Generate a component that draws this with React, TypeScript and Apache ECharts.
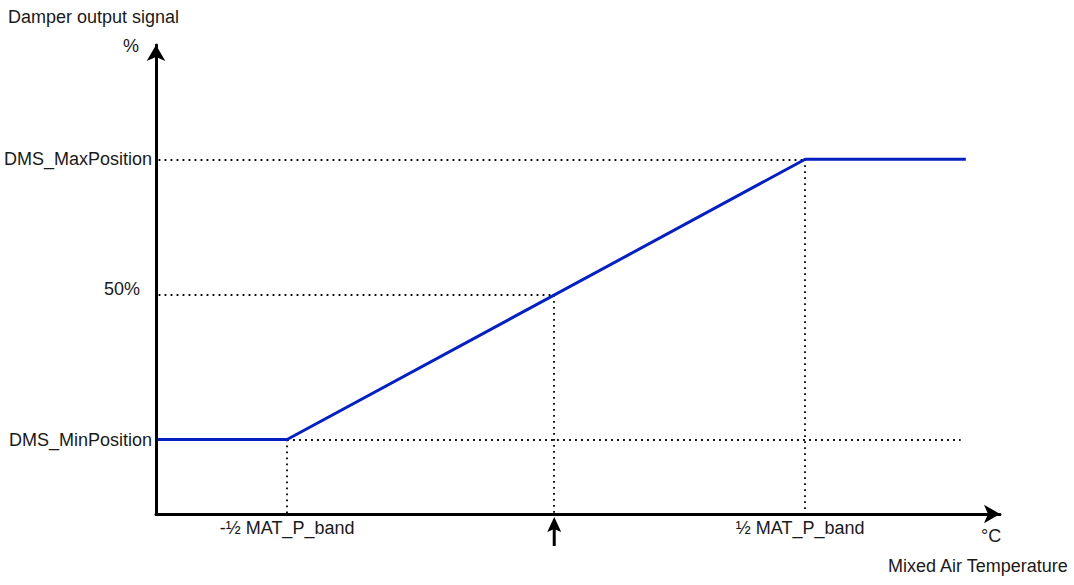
import React, { useEffect, useRef } from "react";
import * as echarts from "echarts";

// Curve knots (relative mixed air temperature, % damper signal)
const xKnots = [-0.75, -0.5, 0.5, 0.81];
const yValues = [17, 17, 81, 81];
// Axis tick labels
const yTickValues = [17, 50, 81];
const yTickLabels = ["DMS_MinPosition", "50%", "DMS_MaxPosition"];
const xTickValues = [-0.5, 0.5];
const xTickLabels = ["-½ MAT_P_band", "½ MAT_P_band"];
const minPos = 17;
const maxPos = 81;
const midPos = 50;
const xBandLo = -0.5;
const xBandHi = 0.5;
const xMinLineEnd = 0.8;

const FONT = "'Liberation Sans', Arial, Helvetica, sans-serif";
const FS = 18;
const TXT = "#1a1a1a";

export default function App() {
  const ref = useRef<HTMLDivElement>(null);
  useEffect(() => {
    if (!ref.current) return;
    const chart = echarts.init(ref.current, null, { renderer: "svg" });
    const xMin = -0.753;
    const xMax = 0.876;
    const x50 = xBandLo + ((midPos - minPos) / (maxPos - minPos)) * (xBandHi - xBandLo);
    const dotted = { color: "#000", width: 1.8, type: [1.8, 4.2] };
    const texts = [
      { id: "t1", type: "text", left: 8, top: 8, style: { text: "Damper output signal", fill: TXT, font: `${FS}px ${FONT}` } },
      { id: "t2", type: "text", left: 123, top: 37, style: { text: "%", fill: TXT, font: `${FS}px ${FONT}` } },
      { id: "t3", type: "text", left: 981, top: 527, style: { text: "°C", fill: TXT, font: `${FS}px ${FONT}` } },
      { id: "t4", type: "text", left: 888, top: 557, style: { text: "Mixed Air Temperature", fill: TXT, font: `${FS}px ${FONT}` } },
    ];
    const option: any = {
      animation: false,
      grid: { left: 156, right: 74, top: 45, bottom: 71 },
      xAxis: {
        type: "value",
        min: xMin,
        max: xMax,
        splitLine: { show: false },
        axisTick: { show: false },
        axisLine: {
          onZero: false,
          lineStyle: { color: "#000", width: 3 },
          symbol: ["none", "arrow"],
          symbolSize: [14, 16],
        },
        axisLabel: {
          customValues: xTickValues,
          formatter: (v: number) => {
            const i = xTickValues.findIndex((t) => Math.abs(t - v) < 1e-9);
            if (i < 0) return "";
            return i === 1 ? `{hi|${xTickLabels[i]}}` : xTickLabels[i];
          },
          rich: { hi: { padding: [0, 10, 0, 0], fontSize: FS, fontFamily: FONT, color: TXT } },
          margin: 5,
          color: TXT,
          fontSize: FS,
          fontFamily: FONT,
        },
      },
      yAxis: {
        type: "value",
        min: 0,
        max: 107.1,
        splitLine: { show: false },
        axisTick: { show: false },
        axisLine: {
          onZero: false,
          lineStyle: { color: "#000", width: 3 },
          symbol: ["none", "arrow"],
          symbolSize: [14, 16],
        },
        axisLabel: {
          customValues: yTickValues,
          formatter: (v: number) => {
            const i = yTickValues.findIndex((t) => Math.abs(t - v) < 1e-9);
            if (i < 0) return "";
            return yTickValues[i] === midPos ? `{mid|${yTickLabels[i]}}` : yTickLabels[i];
          },
          rich: { mid: { padding: [0, 12, 12, 0], fontSize: FS, fontFamily: FONT, color: TXT } },
          margin: 4,
          color: TXT,
          fontSize: FS,
          fontFamily: FONT,
        },
      },
      series: [
        {
          type: "line",
          data: xKnots.map((x, i) => [x, yValues[i]]),
          symbol: "none",
          lineStyle: { color: "#0520c0", width: 3 },
          z: 3,
          markLine: {
            silent: true,
            symbol: ["none", "none"],
            label: { show: false },
            lineStyle: dotted,
            z: 2,
            data: [
              [{ coord: [xMin + 0.005, maxPos] }, { coord: [xBandHi, maxPos] }],
              [{ coord: [xMin + 0.005, midPos] }, { coord: [x50, midPos] }],
              [{ coord: [xBandLo, minPos] }, { coord: [xMinLineEnd, minPos] }],
              [{ coord: [xBandLo, minPos] }, { coord: [xBandLo, 0] }],
              [{ coord: [x50, midPos] }, { coord: [x50, 0] }],
              [{ coord: [xBandHi, maxPos] }, { coord: [xBandHi, 0] }],
            ],
          },
        },
      ],
    };
    chart.setOption(option);
    const p = chart.convertToPixel({ gridIndex: 0 }, [x50, 0]) as number[];
    chart.setOption({
      graphic: [
        ...texts,
        {
          id: "arrowShaft",
          type: "line",
          shape: { x1: p[0], y1: p[1] + 32, x2: p[0], y2: p[1] + 14 },
          style: { stroke: "#000", lineWidth: 3 },
        },
        {
          id: "arrowHead",
          type: "polygon",
          shape: { points: [[p[0], p[1] + 3], [p[0] - 7, p[1] + 18], [p[0], p[1] + 15], [p[0] + 7, p[1] + 18]] },
          style: { fill: "#000" },
        },
      ],
    });
    return () => chart.dispose();
  }, []);
  return (
    <div
      ref={ref}
      style={{ position: "fixed", left: 0, top: 0, width: 1074, height: 585, background: "#fff" }}
    />
  );
}
